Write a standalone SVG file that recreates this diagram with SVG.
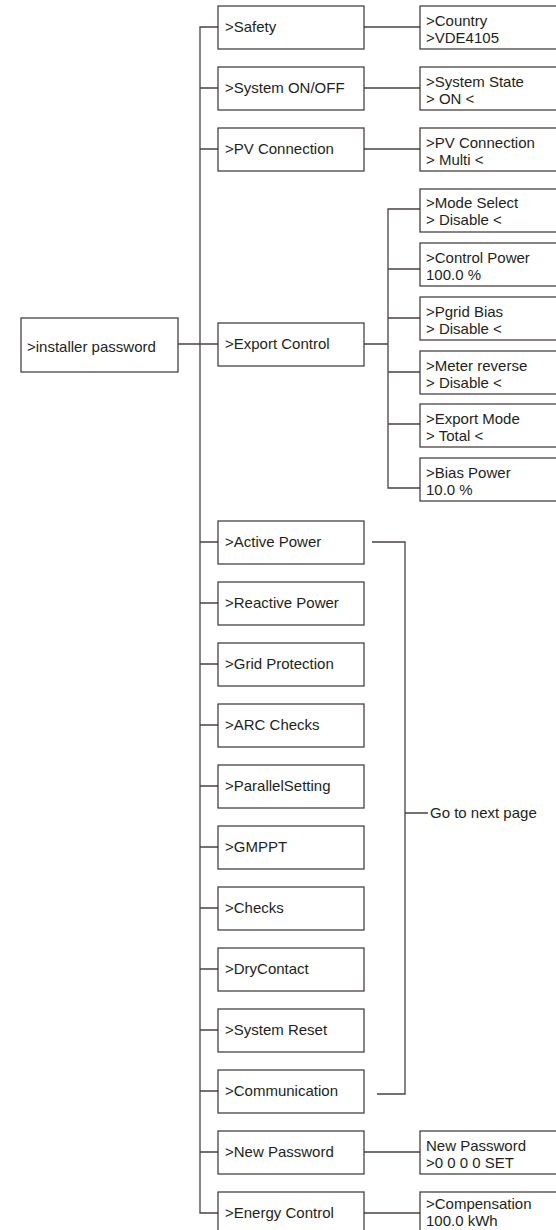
<svg xmlns="http://www.w3.org/2000/svg" width="556" height="1230" viewBox="0 0 556 1230">
<style>
.b{fill:#fff;stroke:#3a3333;stroke-width:1.2}
.l{fill:none;stroke:#4a4242;stroke-width:1.3}
text{font-family:"Liberation Sans",Arial,sans-serif;font-size:15px;fill:#231f20}
</style>
<rect width="556" height="1230" fill="#fff"/>
<g id="connectors">
<path class="l" d="M218,27H200V1213H218"/>
<path class="l" d="M200,88H218M200,149H218M200,542H218M200,603H218M200,664H218M200,725H218M200,786H218M200,847H218M200,908H218M200,969H218M200,1030H218M200,1091H218M200,1152H218"/>
<path class="l" d="M178,344H218"/>
<path class="l" d="M364,27H420M364,88H420M364,149H420M364,1152H420M364,1213H420"/>
<path class="l" d="M364,344H388M420,209H388V488H420M388,269H420M388,318H420M388,372H420M388,424H420"/>
<path class="l" d="M372,542H405V1094H377M405,813H428"/>
</g>
<g id="n-installer"><rect class="b" x="21" y="318" width="157" height="54"/><text x="27" y="352">&gt;installer password</text></g>
<g id="n-safety"><rect class="b" x="218" y="6" width="146" height="43"/><text x="225" y="32">&gt;Safety</text></g>
<g id="n-sysonoff"><rect class="b" x="218" y="67" width="146" height="43"/><text x="225" y="93">&gt;System ON/OFF</text></g>
<g id="n-pvconn"><rect class="b" x="218" y="128" width="146" height="43"/><text x="225" y="154">&gt;PV Connection</text></g>
<g id="n-export"><rect class="b" x="218" y="323" width="146" height="43"/><text x="225" y="349">&gt;Export Control</text></g>
<g id="n-active"><rect class="b" x="218" y="521" width="146" height="43"/><text x="225" y="547">&gt;Active Power</text></g>
<g id="n-reactive"><rect class="b" x="218" y="582" width="146" height="43"/><text x="225" y="608">&gt;Reactive Power</text></g>
<g id="n-gridprot"><rect class="b" x="218" y="643" width="146" height="43"/><text x="225" y="669">&gt;Grid Protection</text></g>
<g id="n-arc"><rect class="b" x="218" y="704" width="146" height="43"/><text x="225" y="730">&gt;ARC Checks</text></g>
<g id="n-parallel"><rect class="b" x="218" y="765" width="146" height="43"/><text x="225" y="791">&gt;ParallelSetting</text></g>
<g id="n-gmppt"><rect class="b" x="218" y="826" width="146" height="43"/><text x="225" y="852">&gt;GMPPT</text></g>
<g id="n-checks"><rect class="b" x="218" y="887" width="146" height="43"/><text x="225" y="913">&gt;Checks</text></g>
<g id="n-dry"><rect class="b" x="218" y="948" width="146" height="43"/><text x="225" y="974">&gt;DryContact</text></g>
<g id="n-reset"><rect class="b" x="218" y="1009" width="146" height="43"/><text x="225" y="1035">&gt;System Reset</text></g>
<g id="n-comm"><rect class="b" x="218" y="1070" width="146" height="43"/><text x="225" y="1096">&gt;Communication</text></g>
<g id="n-newpw"><rect class="b" x="218" y="1131" width="146" height="43"/><text x="225" y="1157">&gt;New Password</text></g>
<g id="n-energy"><rect class="b" x="218" y="1192" width="146" height="43"/><text x="225" y="1218">&gt;Energy Control</text></g>
<g id="n-country"><rect class="b" x="420" y="6" width="160" height="43"/><text x="426" y="26">&gt;Country</text><text x="426" y="43">&gt;VDE4105</text></g>
<g id="n-sysstate"><rect class="b" x="420" y="67" width="160" height="43"/><text x="426" y="87">&gt;System State</text><text x="426" y="104">&gt; ON &lt;</text></g>
<g id="n-pvmulti"><rect class="b" x="420" y="128" width="160" height="43"/><text x="426" y="148">&gt;PV Connection</text><text x="426" y="165">&gt; Multi &lt;</text></g>
<g id="n-mode"><rect class="b" x="420" y="189" width="160" height="43"/><text x="426" y="208">&gt;Mode Select</text><text x="426" y="225">&gt; Disable &lt;</text></g>
<g id="n-ctrlpow"><rect class="b" x="420" y="243" width="160" height="43"/><text x="426" y="263">&gt;Control Power</text><text x="426" y="280">100.0 %</text></g>
<g id="n-pgrid"><rect class="b" x="420" y="297" width="160" height="43"/><text x="426" y="317">&gt;Pgrid Bias</text><text x="426" y="334">&gt; Disable &lt;</text></g>
<g id="n-meter"><rect class="b" x="420" y="351" width="160" height="43"/><text x="426" y="371">&gt;Meter reverse</text><text x="426" y="388">&gt; Disable &lt;</text></g>
<g id="n-expmode"><rect class="b" x="420" y="404" width="160" height="43"/><text x="426" y="424">&gt;Export Mode</text><text x="426" y="441">&gt; Total &lt;</text></g>
<g id="n-biaspow"><rect class="b" x="420" y="458" width="160" height="43"/><text x="426" y="478">&gt;Bias Power</text><text x="426" y="495">10.0 %</text></g>
<g id="n-newpw2"><rect class="b" x="420" y="1131" width="160" height="43"/><text x="426" y="1151">New Password</text><text x="426" y="1168">&gt;0 0 0 0 SET</text></g>
<g id="n-comp"><rect class="b" x="420" y="1192" width="160" height="43"/><text x="426" y="1209">&gt;Compensation</text><text x="426" y="1226">100.0 kWh</text></g>
<g id="n-next"><text x="430" y="818">Go to next page</text></g>
</svg>
